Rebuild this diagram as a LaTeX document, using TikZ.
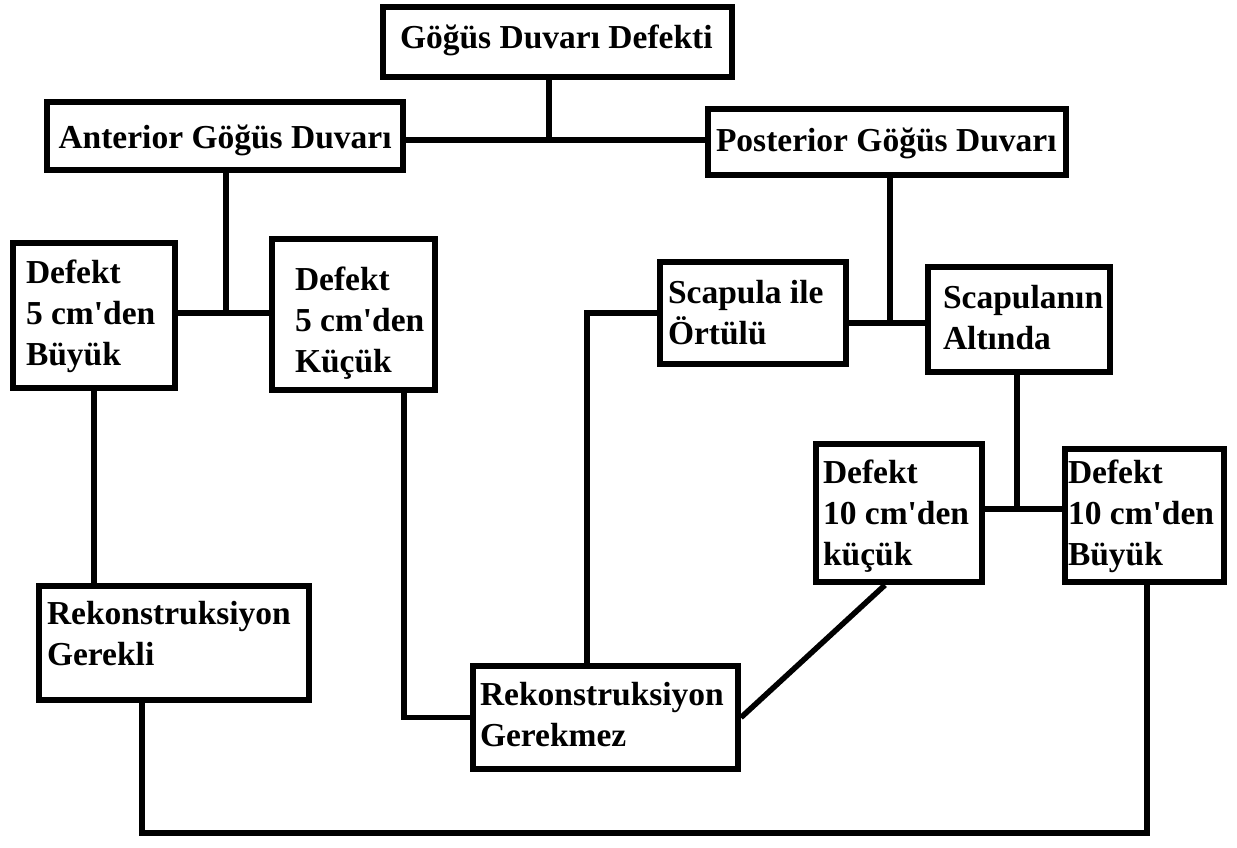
\documentclass[tikz,border=0pt]{standalone}
\usepackage{fontspec}
\setmainfont{Liberation Serif}
\usepackage{tikz}

\begin{document}
\begin{tikzpicture}[x=1pt,y=-1pt,
  kutu/.style={draw,line width=6pt,anchor=north west,align=left,inner ysep=0pt,
    font=\fontsize{33.5pt}{41pt}\selectfont\bfseries,
    execute at begin node={\spaceskip=.25em\xspaceskip=.25em\hyphenpenalty=10000\hbadness=10000\hfuzz=200pt}},
  hat/.style={line width=5.5pt}]
\useasboundingbox (0,0) rectangle (1237,847);

\node[kutu,text width=315pt,inner xsep=17pt,text height=41pt,text depth=29pt] (gdd) at (380,4) {Göğüs~Duvarı~Defekti};
\node[kutu,text width=333pt,inner xsep=11.5pt,text height=46pt,text depth=22pt] (ant) at (44,99) {Anterior~Göğüs~Duvarı};
\node[kutu,text width=342pt,inner xsep=8pt,text height=42pt,text depth=24pt] (post) at (705,106) {Posterior~Göğüs~Duvarı};

\node[kutu,text width=136pt,inner xsep=13pt,text height=40pt,text depth=105pt] (d5b) at (10,240) {Defekt\\5~cm\textquotesingle den\\Büyük};
\node[kutu,text width=117pt,inner xsep=23pt,text height=51pt,text depth=100pt] (d5k) at (269,236) {Defekt\\5~cm\textquotesingle den\\Küçük};
\node[kutu,text width=170pt,inner xsep=8pt,text height=41pt,text depth=61pt] (sio) at (657,259) {Scapula~ile\\Örtülü};
\node[kutu,text width=152pt,inner xsep=15pt,text height=41pt,text depth=64pt] (sa) at (925,264) {Scapulanın\\Altında};

\node[kutu,text width=152pt,inner xsep=7pt,text height=39pt,text depth=99pt] (d10k) at (813,441) {Defekt\\10~cm\textquotesingle den\\küçük};
\node[kutu,text width=153pt,inner xsep=3pt,text height=34pt,text depth=99pt] (d10b) at (1062,446) {Defekt\\10~cm\textquotesingle den\\Büyük};
\node[kutu,text width=254pt,inner xsep=8pt,text height=38pt,text depth=76pt] (rgl) at (36,583) {Rekonstruksiyon\\Gerekli};
\node[kutu,text width=251pt,inner xsep=7pt,text height=39pt,text depth=64pt] (rgz) at (470,663) {Rekonstruksiyon\\Gerekmez};

\coordinate (j1) at (549,140);
\coordinate (j2) at (226,313);
\coordinate (j3) at (890,323);
\coordinate (j4) at (1017,509);
\coordinate (k1) at (404,0);
\coordinate (s1) at (587,0);
\coordinate (b1) at (142,833);
\coordinate (b2) at (1147,833);

\draw[hat] (gdd.south -| j1) -- (j1);
\draw[hat] (ant.east |- j1) -- (post.west |- j1);
\draw[hat] (ant.south -| j2) -- (j2);
\draw[hat] (d5b.east |- j2) -- (d5k.west |- j2);
\draw[hat] (post.south -| j3) -- (j3);
\draw[hat] (sio.east |- j3) -- (sa.west |- j3);
\draw[hat] (sa.south -| j4) -- (j4);
\draw[hat] (d10k.east |- j4) -- (d10b.west |- j4);
\draw[hat] (d5b.south) -- (d5b.south |- rgl.north);
\draw[hat] (d5k.south -| k1) |- (rgz.west);
\draw[hat] (sio.west) -| (s1 |- rgz.north);
\draw[hat] (rgz.east) -- ([xshift=-14pt]d10k.south);
\draw[hat] (rgl.south -| b1) -- (b1) -- (b2) -- (b2 |- d10b.south);
\end{tikzpicture}
\end{document}
